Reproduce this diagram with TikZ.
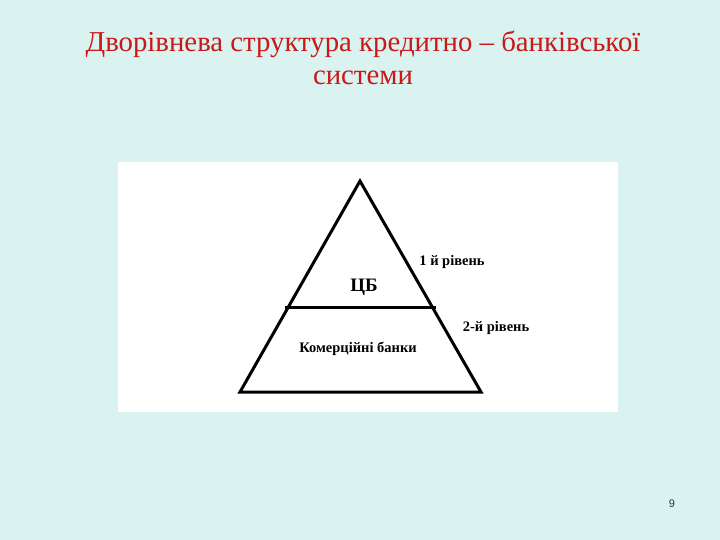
\documentclass[tikz,border=0pt]{standalone}
\usepackage{fontspec}
\setmainfont{Liberation Serif}
\newfontfamily\pnfont{Liberation Sans}
\definecolor{bgc}{RGB}{218,243,240}
\definecolor{titlec}{RGB}{200,24,24}
\begin{document}
\begin{tikzpicture}[x=1pt,y=-1pt,
  tri/.style={line width=3pt, line join=miter},
  lbl/.style={font=\fontsize{14.5}{16}\selectfont\bfseries, inner sep=0pt},
  ttl/.style={font=\fontsize{28.8}{33}\selectfont, text=titlec, align=center, inner sep=0pt}]
\fill[bgc] (0,0) rectangle (720,540);
\useasboundingbox (0,0) rectangle (720,540);
\fill[white] (118,162) rectangle (618,412);
\node[ttl] (title) at (363,58) {Дворівнева структура кредитно – банківської\\системи};
\coordinate (apex) at (360,181);
\coordinate (bl) at (240,392);
\coordinate (br) at (481,392);
\coordinate (ml) at (285,307.5);
\coordinate (mr) at (436,307.5);
\draw[tri] (apex) -- (br) -- (bl) -- cycle;
\draw[tri] (ml) -- (mr);
\node[lbl, font=\fontsize{19}{21}\selectfont\bfseries] (cb) at (364,287) {ЦБ};
\node[lbl] (l1) at (452,262) {1 й рівень};
\node[lbl] (l2) at (496,328) {2-й рівень};
\node[lbl] (kb) at (358,349) {Комерційні банки};
\node[font=\pnfont\fontsize{11}{13}\selectfont, text=black!80, inner sep=0pt] (pn) at (672,504) {9};
\end{tikzpicture}
\end{document}
